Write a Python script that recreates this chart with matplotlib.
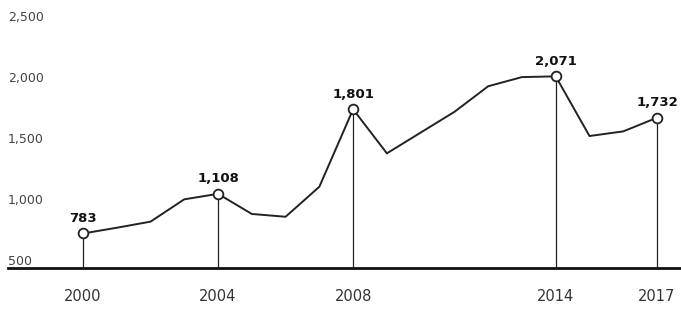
import matplotlib.pyplot as plt

years = [2000, 2001, 2002, 2003, 2004, 2005, 2006, 2007, 2008,
         2009, 2010, 2011, 2012, 2013, 2014, 2015, 2016, 2017]
values = [783, 830, 880, 1063, 1108, 943, 920, 1166, 1801,
          1440, 1610, 1780, 1990, 2065, 2071, 1582, 1620, 1732]
marked_years = [2000, 2004, 2008, 2014, 2017]
marked_labels = ['783', '1,108', '1,801', '2,071', '1,732']
y_ticks = [500, 1000, 1500, 2000, 2500]
y_tick_labels = ['500', '1,000', '1,500', '2,000', '2,500']

fig = plt.figure(figsize=(6.81, 3.11), dpi=100)
ax = fig.add_axes([8 / 681, 43 / 311, 673 / 681, 268 / 311])

ax.plot(years, values, color='#222222', lw=1.4, zorder=3)

marked_vals = [values[years.index(y)] for y in marked_years]
ax.vlines(marked_years, 500, marked_vals, color='#222222', lw=0.9, zorder=2)
ax.plot(marked_years, marked_vals, 'o', ms=7, mfc='white', mec='#222222',
        mew=1.3, zorder=4)
for x, v, lab in zip(marked_years, marked_vals, marked_labels):
    ax.annotate(lab, (x, v), xytext=(0, 11), textcoords='offset points',
                ha='center', va='center', fontsize=9.5, fontweight='bold',
                color='#111111')

ax.set_xlim(1997.78, 2017.71)
ax.set_ylim(500, 2697)

for s in ['top', 'right', 'left']:
    ax.spines[s].set_visible(False)
ax.spines['bottom'].set_linewidth(2)
ax.spines['bottom'].set_color('#111111')

ax.set_xticks(marked_years)
ax.set_xticklabels([str(y) for y in marked_years], fontsize=10.5, color='#333333')
ax.tick_params(axis='x', length=0, pad=15)

ax.set_yticks(y_ticks)
ax.set_yticklabels(y_tick_labels, fontsize=9, color='#444444')
ax.tick_params(axis='y', length=0, pad=0)
for t in ax.get_yticklabels():
    t.set_horizontalalignment('left')
    t.set_verticalalignment('bottom')

fig.savefig('out.png', dpi=100)
